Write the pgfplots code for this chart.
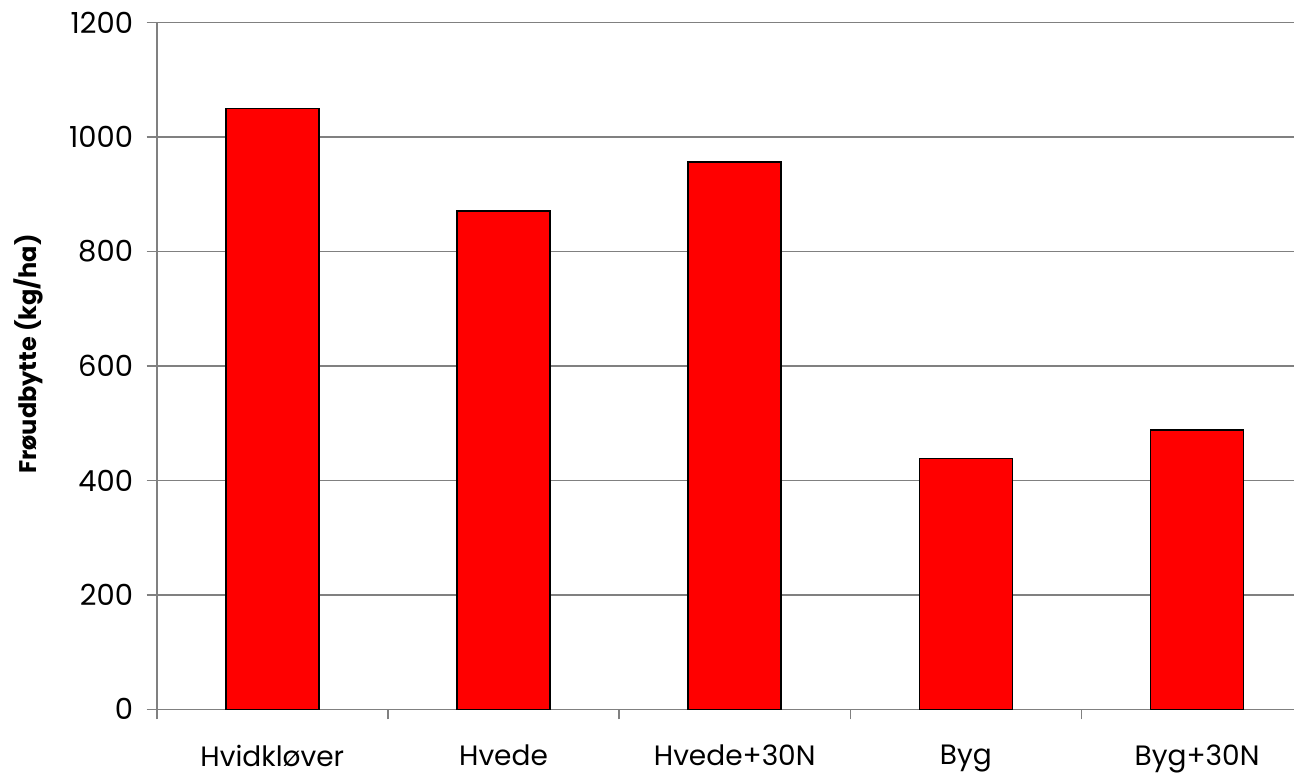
\documentclass[border=0pt]{standalone}
\usepackage{pgfplots}
\pgfplotsset{compat=1.18}
\usepackage{fontspec}
\setmainfont{Poppins}
\definecolor{axgray}{HTML}{808080}
\begin{document}
\fontsize{14}{17}\selectfont
\begin{tikzpicture}
\path[use as bounding box, clip] (0,0) rectangle (647pt,388.5pt);
\begin{axis}[
  at={(78.35pt,33.85pt)}, anchor=south west,
  scale only axis, width=578pt, height=343.3pt,
  xmin=-0.5, xmax=4.5, ymin=0, ymax=1200,
  ytick={0,200,...,1200},
  ymajorgrids, grid style={axgray, line width=0.8pt},
  axis x line=bottom, axis y line=left,
  axis line style={-, draw=axgray, line width=0.8pt},
  xtick={-0.5,0.5,1.5,2.5,3.5,4.5},
  x tick label as interval,
  xticklabels={Hvidkløver,Hvede,Hvede+30N,Byg,Byg+30N},
  tick align=outside, major tick length=5pt,
  tick style={draw=axgray, line width=0.8pt},
  /pgf/number format/assume math mode=true,
  /pgf/number format/1000 sep={},
  tick label style={font=\fontsize{14.5}{17}\selectfont},
  xticklabel style={yshift=-8pt, font=\fontsize{14}{17}\selectfont},
  yticklabel style={xshift=-2pt},
  ylabel={\bfseries Frøudbytte (kg/ha)},
  ylabel style={at={(axis description cs:-0.1113,0.5175)}, anchor=center, font=\fontsize{12}{14}\selectfont},
  ybar, bar width=46.5pt,
]
\addplot[fill=red, draw=black, line width=0.8pt] coordinates {(0,1050) (1,871) (2,957) (3,438) (4,488)};
\end{axis}
\end{tikzpicture}
\end{document}
